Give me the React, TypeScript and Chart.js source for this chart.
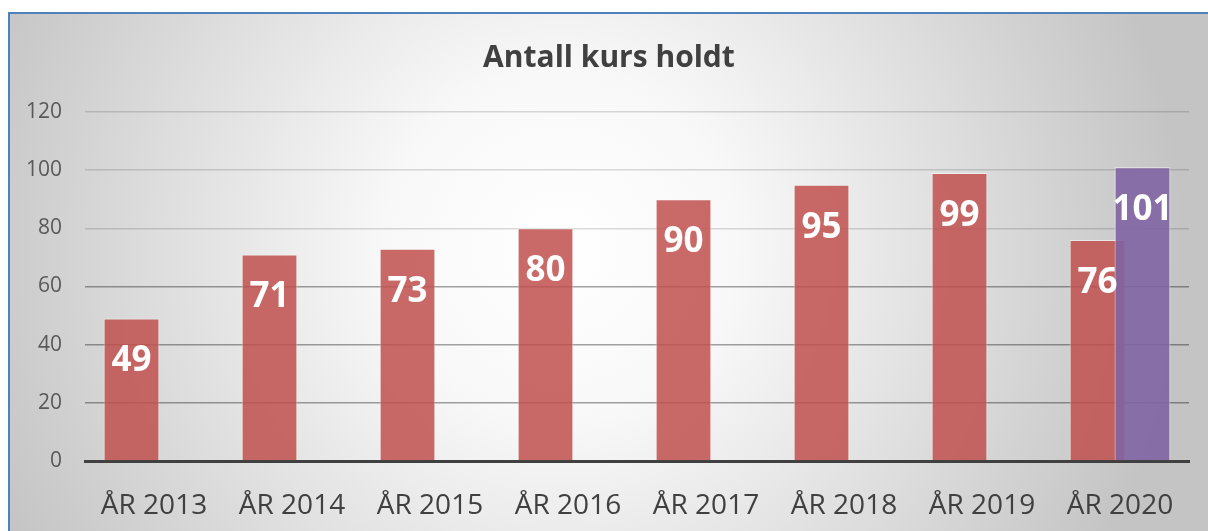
import React, { useEffect, useRef } from "react";
import { Chart, registerables } from "chart.js";

Chart.register(...registerables);

const titleText = "Antall kurs holdt";
const categories = ["ÅR 2013", "ÅR 2014", "ÅR 2015", "ÅR 2016", "ÅR 2017", "ÅR 2018", "ÅR 2019", "ÅR 2020"];
const seriesMain: (number | null)[] = [49, 71, 73, 80, 90, 95, 99, 76];
const seriesExtra: (number | null)[] = [null, null, null, null, null, null, null, 101];
const yMin = 0;
const yMax = 120;
const yStep = 20;

const FONT = "'Open Sans', 'DejaVu Sans', sans-serif";

const layerPlugin = {
  id: "layerAndLabels",
  beforeDatasetDraw(chart: any, args: any) {
    if (args.index === 1 && !chart.$drawTop) return false;
    return true;
  },
  afterDatasetsDraw(chart: any) {
    const ctx = chart.ctx;
    const meta1 = chart.getDatasetMeta(1);
    chart.$drawTop = true;
    ctx.save();
    meta1.controller.draw();
    ctx.restore();
    chart.$drawTop = false;

    ctx.save();
    ctx.font = `bold 35px ${FONT}`;
    ctx.fillStyle = "#ffffff";
    ctx.textAlign = "center";
    ctx.textBaseline = "middle";
    [0, 1].forEach((di) => {
      const m = chart.getDatasetMeta(di);
      const data = chart.data.datasets[di].data;
      m.data.forEach((el: any, i: number) => {
        const v = data[i];
        if (v === null || v === undefined) return;
        ctx.fillText(String(v), el.x, el.y + 43);
      });
    });
    ctx.restore();
  },
};

export default function App() {
  const ref = useRef<HTMLCanvasElement | null>(null);

  useEffect(() => {
    if (!ref.current) return;
    const chart = new Chart(ref.current, {
      type: "bar",
      data: {
        labels: categories,
        datasets: [
          {
            label: "Kurs",
            data: seriesMain,
            backgroundColor: "rgba(192,80,77,0.85)",
            borderColor: "rgba(255,255,255,0.5)",
            borderWidth: 1,
            categoryPercentage: 0.652,
            barPercentage: 1.24,
          },
          {
            label: "Kurs 2",
            data: seriesExtra,
            backgroundColor: "rgba(128,100,162,0.9)",
            borderColor: "rgba(255,255,255,0.7)",
            borderWidth: 1,
            categoryPercentage: 0.652,
            barPercentage: 1.24,
          },
        ],
      },
      options: {
        animation: false,
        responsive: false,
        maintainAspectRatio: false,
        layout: { padding: { left: 0, right: 0, top: 0, bottom: 0 } },
        plugins: {
          legend: { display: false },
          tooltip: { enabled: false },
          title: {
            display: true,
            text: titleText,
            color: "#404040",
            font: { family: FONT, size: 30, weight: "bold" },
            padding: { top: 26, bottom: 36 },
          },
        },
        scales: {
          x: {
            afterFit: (scale: any) => {
              scale.height = 70;
            },
            grid: { display: false, drawTicks: false },
            border: { display: true, color: "#404040", width: 3 },
            ticks: {
              color: "#404040",
              font: { family: FONT, size: 28 },
              padding: 28,
              maxRotation: 0,
              autoSkip: false,
            },
          },
          y: {
            min: yMin,
            max: yMax,
            afterFit: (scale: any) => {
              scale.width = 75;
            },
            border: { display: false },
            grid: {
              drawTicks: false,
              lineWidth: 1.5,
              color: (c: any) =>
                c.tick && c.tick.value >= 80 ? "rgba(0,0,0,0.14)" : "rgba(0,0,0,0.36)",
            },
            ticks: {
              stepSize: yStep,
              color: "#595959",
              font: { family: FONT, size: 21 },
              padding: 23,
            },
          },
          yRight: {
            position: "right",
            min: yMin,
            max: yMax,
            afterFit: (scale: any) => {
              scale.width = 19;
            },
            border: { display: false },
            grid: { display: false, drawTicks: false },
            ticks: { display: false },
          },
        },
      },
      plugins: [layerPlugin],
    } as any);
    return () => chart.destroy();
  }, []);

  return (
    <div
      style={{
        position: "fixed",
        left: 8,
        top: 12,
        width: 1198,
        height: 517,
        borderTop: "2px solid #4f81bd",
        borderLeft: "2px solid #4f81bd",
        background:
          "radial-gradient(circle farthest-corner at 46% 45%, #ffffff 0%, #f8f8f8 25%, #c4c4c4 88%)",
      }}
    >
      <canvas ref={ref} width={1198} height={517} style={{ display: "block" }} />
    </div>
  );
}
